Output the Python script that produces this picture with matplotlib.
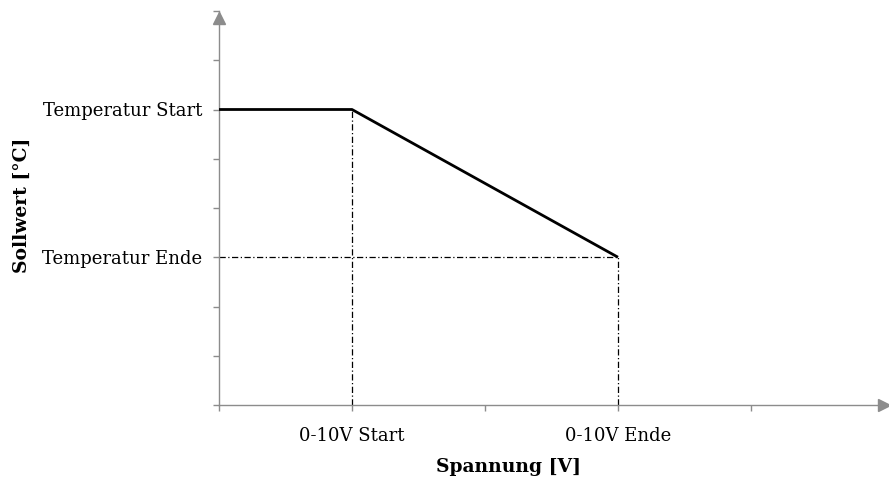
import matplotlib
matplotlib.use("Agg")
import matplotlib.pyplot as plt

# Data
x_voltage = [0, 1, 3]
y_setpoint = [6, 6, 3]
x_tick_pos = [0, 1, 2, 3, 4]
x_tick_labels = ["", "0-10V Start", "", "0-10V Ende", ""]
y_tick_pos = [0, 1, 2, 3, 4, 5, 6, 7, 8]
y_tick_labels = ["", "", "", "Temperatur Ende", "", "", "Temperatur Start", "", ""]
x_label = "Spannung [V]"
y_label = "Sollwert [°C]"

plt.rcParams['font.family'] = ['DejaVu Serif']

W, H = 889, 479
fig = plt.figure(figsize=(W/100, H/100), dpi=100)
left_px, right_px, top_px, bottom_px = 219, 884, 11, 405
ax = fig.add_axes([left_px/W, 1-bottom_px/H, (right_px-left_px)/W, (bottom_px-top_px)/H])
unit_x = 133.0
ax.set_xlim(0, (right_px-left_px)/unit_x)
ax.set_ylim(0, 8)

gray = "#8c8c8c"
for s in ["top", "right"]:
    ax.spines[s].set_visible(False)
for s in ["left", "bottom"]:
    ax.spines[s].set_color(gray)
    ax.spines[s].set_linewidth(1.0)

# Arrow heads
ax.plot(1, 0, marker=">", color=gray, markersize=8, transform=ax.transAxes, clip_on=False)
ax.plot(0, (bottom_px-18)/(bottom_px-top_px), marker="^", color=gray, markersize=8,
        transform=ax.transAxes, clip_on=False)

# Reference dash-dot lines
dd = dict(color="black", lw=0.9, ls="-.", dashes=(5, 2, 1, 2))
ax.plot([x_voltage[1], x_voltage[1]], [0, y_setpoint[1]], **dd)
ax.plot([x_voltage[2], x_voltage[2]], [0, y_setpoint[2]], **dd)
ax.plot([0, x_voltage[2]], [y_setpoint[2], y_setpoint[2]], **dd)

# Main curve
ax.plot(x_voltage, y_setpoint, color="black", lw=2.0, solid_capstyle="butt", zorder=5)

ax.set_xticks(x_tick_pos)
ax.set_xticklabels(x_tick_labels, fontsize=13)
ax.set_yticks(y_tick_pos)
ax.set_yticklabels(y_tick_labels, fontsize=13)
ax.tick_params(axis="both", colors=gray, labelcolor="black", length=4, width=1.0)
ax.tick_params(axis="x", pad=12)
ax.tick_params(axis="y", pad=8)

fig.text(508/W, 1-467/H, x_label, ha="center", va="center", fontsize=13.5, fontweight="bold")
fig.text(22/W, 1-205/H, y_label, ha="center", va="center", rotation=90, fontsize=13.5, fontweight="bold")

fig.savefig("out.png", dpi=100)
